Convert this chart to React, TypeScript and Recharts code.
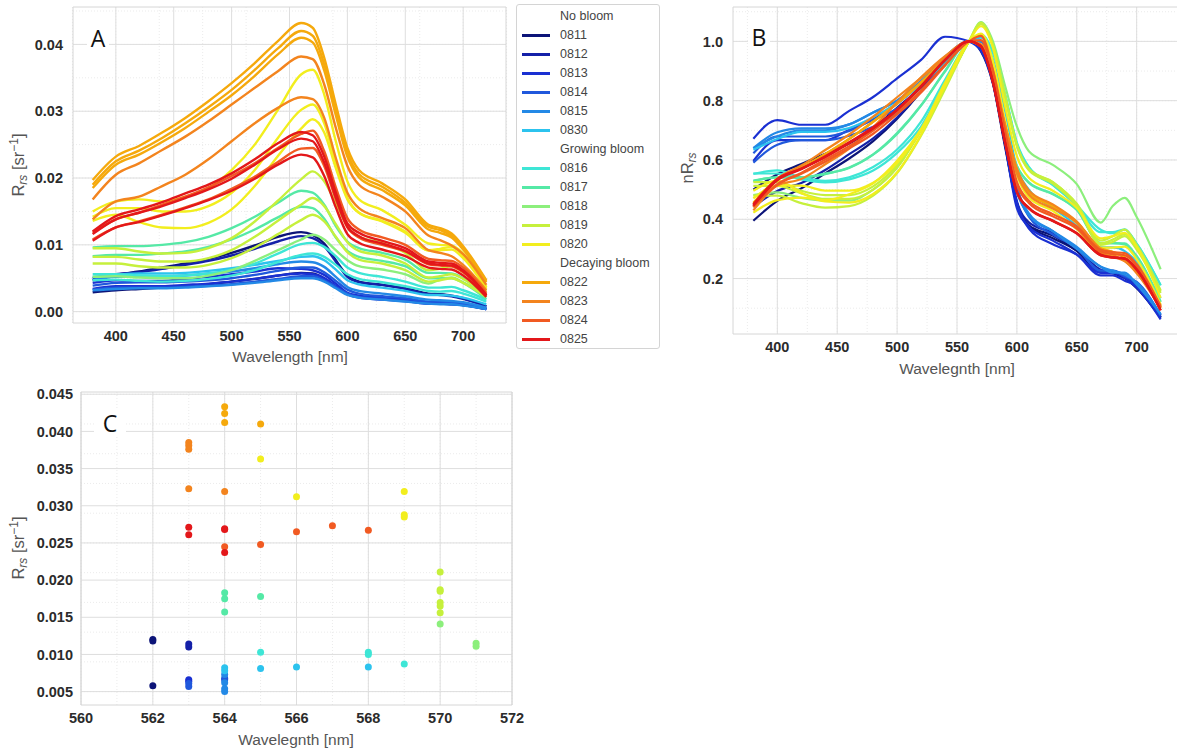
import { LineChart, Line, ScatterChart, Scatter, XAxis, YAxis, CartesianGrid, ReferenceArea } from "recharts";

// Wavelength grid of the sampled spectra [nm]
const WAVELENGTHS = [380, 400, 420, 440, 460, 480, 500, 520, 540, 560, 570, 580, 590, 600, 610, 630, 650, 670, 680, 690, 700, 720];

// Remote-sensing reflectance per station [sr^-1]
const rs0811a = [0.0047, 0.0055, 0.006, 0.0066, 0.0072, 0.0079, 0.0088, 0.0099, 0.0112, 0.0119, 0.0115, 0.0102, 0.0077, 0.0054, 0.0045, 0.004, 0.0035, 0.0027, 0.0026, 0.0024, 0.002, 0.0008];
const rs0811b = [0.0029, 0.0032, 0.0034, 0.0036, 0.0038, 0.0041, 0.0045, 0.0049, 0.0054, 0.0058, 0.0057, 0.005, 0.0038, 0.0026, 0.0022, 0.002, 0.0017, 0.0013, 0.0013, 0.0012, 0.001, 0.0004];
const rs0812a = [0.005, 0.0056, 0.0059, 0.0064, 0.007, 0.0076, 0.0084, 0.0094, 0.0105, 0.0113, 0.011, 0.0098, 0.0075, 0.0052, 0.0044, 0.004, 0.0034, 0.0026, 0.0025, 0.0023, 0.0019, 0.0008];
const rs0813a = [0.0043, 0.0047, 0.0046, 0.0046, 0.0049, 0.0052, 0.0056, 0.006, 0.0065, 0.0064, 0.0062, 0.0055, 0.0042, 0.0028, 0.0024, 0.0021, 0.0018, 0.0014, 0.0014, 0.0013, 0.0011, 0.0004];
const rs0813b = [0.0034, 0.0038, 0.0038, 0.0038, 0.004, 0.0042, 0.0045, 0.0049, 0.0054, 0.0057, 0.0056, 0.005, 0.0038, 0.0026, 0.0021, 0.0018, 0.0016, 0.0012, 0.0012, 0.0011, 0.001, 0.0004];
const rs0814a = [0.0039, 0.0043, 0.0044, 0.0044, 0.0045, 0.0047, 0.005, 0.0055, 0.0061, 0.0066, 0.0066, 0.0059, 0.0046, 0.0033, 0.0027, 0.0023, 0.002, 0.0015, 0.0015, 0.0014, 0.0012, 0.0005];
const rs0814b = [0.0033, 0.0036, 0.0036, 0.0036, 0.0037, 0.0039, 0.0041, 0.0045, 0.0049, 0.0053, 0.0053, 0.0047, 0.0037, 0.0027, 0.0022, 0.0019, 0.0016, 0.0012, 0.0012, 0.0011, 0.001, 0.0004];
const rs0815a = [0.0048, 0.0052, 0.0053, 0.0053, 0.0054, 0.0057, 0.006, 0.0065, 0.0071, 0.0075, 0.0074, 0.0067, 0.0052, 0.0037, 0.0031, 0.0027, 0.0023, 0.0018, 0.0017, 0.0016, 0.0014, 0.0006];
const rs0815b = [0.0032, 0.0034, 0.0035, 0.0035, 0.0036, 0.0038, 0.004, 0.0043, 0.0047, 0.005, 0.005, 0.0045, 0.0035, 0.0025, 0.0021, 0.0018, 0.0015, 0.0012, 0.0011, 0.0011, 0.0009, 0.0004];
const rs0830a = [0.0052, 0.0055, 0.0057, 0.0057, 0.0058, 0.0061, 0.0065, 0.007, 0.0076, 0.0082, 0.0083, 0.0077, 0.0063, 0.0047, 0.0041, 0.0036, 0.0031, 0.0025, 0.0025, 0.0024, 0.0021, 0.0011];
const rs0816a = [0.0056, 0.0056, 0.0054, 0.0053, 0.0054, 0.0057, 0.0063, 0.0072, 0.0087, 0.0101, 0.0103, 0.0097, 0.0083, 0.0066, 0.0058, 0.0052, 0.0045, 0.0036, 0.0036, 0.0037, 0.0032, 0.0018];
const rs0816b = [0.0047, 0.0048, 0.0046, 0.0045, 0.0046, 0.0049, 0.0054, 0.0062, 0.0074, 0.0085, 0.0087, 0.0082, 0.007, 0.0056, 0.0049, 0.0044, 0.0038, 0.0031, 0.003, 0.0031, 0.0027, 0.0015];
const rs0817a = [0.0096, 0.0098, 0.0098, 0.01, 0.0104, 0.0112, 0.0125, 0.0142, 0.0163, 0.0181, 0.0178, 0.016, 0.0128, 0.0105, 0.0095, 0.0088, 0.0078, 0.0058, 0.0058, 0.0057, 0.005, 0.0022];
const rs0817b = [0.0083, 0.0085, 0.0085, 0.0087, 0.009, 0.0097, 0.0108, 0.0123, 0.0141, 0.0157, 0.0155, 0.0139, 0.0111, 0.0091, 0.0082, 0.0076, 0.0068, 0.005, 0.005, 0.005, 0.0043, 0.0019];
const rs0818a = [0.0052, 0.0053, 0.0051, 0.005, 0.005, 0.0054, 0.0062, 0.0076, 0.0092, 0.0108, 0.0115, 0.0108, 0.0092, 0.0077, 0.0068, 0.0063, 0.0056, 0.0042, 0.0048, 0.0051, 0.0044, 0.0025];
const rs0819a = [0.0095, 0.0095, 0.009, 0.0087, 0.0088, 0.0095, 0.011, 0.0135, 0.0166, 0.0198, 0.021, 0.0195, 0.0162, 0.0128, 0.0112, 0.0103, 0.0088, 0.0062, 0.0064, 0.0068, 0.0059, 0.003];
const rs0819b = [0.0082, 0.0082, 0.0078, 0.0075, 0.0075, 0.008, 0.0092, 0.0112, 0.0136, 0.016, 0.017, 0.0158, 0.0131, 0.0104, 0.0091, 0.0084, 0.0072, 0.0051, 0.0053, 0.0056, 0.0049, 0.0025];
const rs0819c = [0.0072, 0.0072, 0.0068, 0.0066, 0.0066, 0.007, 0.008, 0.0096, 0.0116, 0.0137, 0.0145, 0.0135, 0.0112, 0.0089, 0.0078, 0.0072, 0.0062, 0.0045, 0.0047, 0.005, 0.0043, 0.0022];
const rs0820a = [0.015, 0.0165, 0.0168, 0.0165, 0.0172, 0.0185, 0.0212, 0.025, 0.0302, 0.0355, 0.0362, 0.0325, 0.0255, 0.0195, 0.0168, 0.0152, 0.013, 0.0102, 0.01, 0.0099, 0.0087, 0.0036];
const rs0820b = [0.0136, 0.0145, 0.0134, 0.0126, 0.0125, 0.0133, 0.0153, 0.0188, 0.0233, 0.0274, 0.0288, 0.0268, 0.0215, 0.0168, 0.0148, 0.0136, 0.012, 0.0092, 0.0094, 0.0097, 0.0084, 0.0037];
const rs0820c = [0.0142, 0.0155, 0.0155, 0.015, 0.015, 0.0158, 0.0178, 0.0212, 0.026, 0.0302, 0.031, 0.0282, 0.0222, 0.017, 0.0148, 0.0135, 0.0118, 0.0092, 0.0092, 0.0093, 0.008, 0.0034];
const rs0822a = [0.0197, 0.0232, 0.0248, 0.0268, 0.029, 0.0315, 0.0342, 0.0372, 0.0405, 0.0432, 0.0425, 0.038, 0.031, 0.0245, 0.0212, 0.0192, 0.0168, 0.013, 0.0125, 0.0117, 0.0098, 0.0047];
const rs0822b = [0.019, 0.0225, 0.0241, 0.026, 0.0282, 0.0306, 0.0332, 0.0362, 0.0394, 0.042, 0.0413, 0.037, 0.0302, 0.0238, 0.0206, 0.0187, 0.0163, 0.0127, 0.0122, 0.0114, 0.0095, 0.0046];
const rs0822c = [0.0185, 0.022, 0.0235, 0.0254, 0.0275, 0.0299, 0.0324, 0.0353, 0.0385, 0.041, 0.0403, 0.0361, 0.0294, 0.0232, 0.0201, 0.0182, 0.0159, 0.0123, 0.0118, 0.0111, 0.0093, 0.0044];
const rs0823a = [0.0168, 0.0205, 0.0222, 0.0242, 0.0262, 0.0285, 0.031, 0.0335, 0.036, 0.0382, 0.0378, 0.034, 0.0275, 0.0218, 0.019, 0.0172, 0.015, 0.0114, 0.0107, 0.0099, 0.0086, 0.004];
const rs0823b = [0.0138, 0.0165, 0.0172, 0.0188, 0.0205, 0.0228, 0.0255, 0.0282, 0.0305, 0.0321, 0.0318, 0.029, 0.023, 0.0178, 0.0155, 0.014, 0.0125, 0.0092, 0.0088, 0.0083, 0.007, 0.0032];
const rs0824a = [0.0118, 0.0138, 0.0148, 0.016, 0.0172, 0.0186, 0.0203, 0.0222, 0.0245, 0.0266, 0.0271, 0.024, 0.0186, 0.014, 0.0123, 0.0111, 0.01, 0.0079, 0.0077, 0.0076, 0.0066, 0.0028];
const rs0824b = [0.0108, 0.0126, 0.0135, 0.0145, 0.0156, 0.0168, 0.0184, 0.0202, 0.0224, 0.0244, 0.0245, 0.0218, 0.0168, 0.0126, 0.0111, 0.01, 0.009, 0.0071, 0.0069, 0.0068, 0.0059, 0.0025];
const rs0825a = [0.012, 0.0143, 0.0153, 0.0164, 0.0177, 0.019, 0.0207, 0.0228, 0.0252, 0.0269, 0.0264, 0.0232, 0.0178, 0.0132, 0.0118, 0.0106, 0.0095, 0.0075, 0.0073, 0.0072, 0.0062, 0.0025];
const rs0825b = [0.0106, 0.0126, 0.0134, 0.0144, 0.0155, 0.0167, 0.0181, 0.0199, 0.022, 0.0235, 0.0231, 0.0203, 0.0156, 0.0116, 0.0103, 0.0093, 0.0083, 0.0066, 0.0064, 0.0063, 0.0054, 0.0022];
const rs0825c = [0.0116, 0.0138, 0.0148, 0.0158, 0.017, 0.0183, 0.0199, 0.022, 0.0243, 0.0259, 0.0255, 0.0223, 0.0171, 0.0127, 0.0113, 0.0102, 0.0091, 0.0072, 0.007, 0.0069, 0.006, 0.0024];

// Peak reflectance position per station: [wavelength nm, Rrs]
const peaks0811 = [[562, 0.012], [562, 0.0118], [562, 0.0058]];
const peaks0812 = [[563, 0.0114], [563, 0.011]];
const peaks0813 = [[563, 0.0066], [563, 0.0064]];
const peaks0814 = [[563, 0.0061], [563, 0.0057], [564, 0.0068], [564, 0.0066]];
const peaks0815 = [[564, 0.0062], [564, 0.0054], [564, 0.005], [564, 0.0073]];
const peaks0830 = [[564, 0.0082], [564, 0.0078], [565, 0.0081], [566, 0.0083], [568, 0.0083]];
const peaks0816 = [[565, 0.0103], [568, 0.0103], [568, 0.01], [569, 0.0087]];
const peaks0817 = [[564, 0.0183], [564, 0.0175], [564, 0.0157], [565, 0.0178]];
const peaks0818 = [[571, 0.0115], [571, 0.0111], [570, 0.0141]];
const peaks0819 = [[570, 0.0211], [570, 0.0187], [570, 0.0185], [570, 0.017], [570, 0.0165], [570, 0.0156]];
const peaks0820 = [[565, 0.0363], [566, 0.0312], [569, 0.0319], [569, 0.0288], [569, 0.0285]];
const peaks0822 = [[564, 0.0433], [564, 0.0424], [564, 0.0412], [565, 0.041]];
const peaks0823 = [[563, 0.0385], [563, 0.0381], [563, 0.0376], [563, 0.0323], [564, 0.0319]];
const peaks0824 = [[564, 0.0245], [565, 0.0248], [566, 0.0265], [567, 0.0273], [568, 0.0267]];
const peaks0825 = [[563, 0.0271], [563, 0.0261], [564, 0.0269], [564, 0.0268], [564, 0.0237]];

const DATES = ["0811", "0812", "0813", "0814", "0815", "0830", "0816", "0817", "0818", "0819", "0820", "0822", "0823", "0824", "0825"];
const DATE_COLORS = ["#0c1478", "#1420a8", "#1a30d2", "#2058dc", "#2389e6", "#2cc3ee", "#3ee6d6", "#55e9a6", "#8cef7c", "#c6f03c", "#f2ee1e", "#f5a90c", "#f3841e", "#f15a22", "#e3171a"];

const GROUPS = [
  { title: "No bloom", dates: ["0811", "0812", "0813", "0814", "0815", "0830"] },
  { title: "Growing bloom", dates: ["0816", "0817", "0818", "0819", "0820"] },
  { title: "Decaying bloom", dates: ["0822", "0823", "0824", "0825"] },
];

const SPECTRA = [
  { id: "s0811a", date: "0811", values: rs0811a },
  { id: "s0811b", date: "0811", values: rs0811b },
  { id: "s0812a", date: "0812", values: rs0812a },
  { id: "s0813a", date: "0813", values: rs0813a },
  { id: "s0813b", date: "0813", values: rs0813b },
  { id: "s0814a", date: "0814", values: rs0814a },
  { id: "s0814b", date: "0814", values: rs0814b },
  { id: "s0815a", date: "0815", values: rs0815a },
  { id: "s0815b", date: "0815", values: rs0815b },
  { id: "s0830a", date: "0830", values: rs0830a },
  { id: "s0816a", date: "0816", values: rs0816a },
  { id: "s0816b", date: "0816", values: rs0816b },
  { id: "s0817a", date: "0817", values: rs0817a },
  { id: "s0817b", date: "0817", values: rs0817b },
  { id: "s0818a", date: "0818", values: rs0818a },
  { id: "s0819a", date: "0819", values: rs0819a },
  { id: "s0819b", date: "0819", values: rs0819b },
  { id: "s0819c", date: "0819", values: rs0819c },
  { id: "s0820a", date: "0820", values: rs0820a },
  { id: "s0820b", date: "0820", values: rs0820b },
  { id: "s0820c", date: "0820", values: rs0820c },
  { id: "s0822a", date: "0822", values: rs0822a },
  { id: "s0822b", date: "0822", values: rs0822b },
  { id: "s0822c", date: "0822", values: rs0822c },
  { id: "s0823a", date: "0823", values: rs0823a },
  { id: "s0823b", date: "0823", values: rs0823b },
  { id: "s0824a", date: "0824", values: rs0824a },
  { id: "s0824b", date: "0824", values: rs0824b },
  { id: "s0825a", date: "0825", values: rs0825a },
  { id: "s0825b", date: "0825", values: rs0825b },
  { id: "s0825c", date: "0825", values: rs0825c },
];

const PEAKS = [
  { date: "0811", points: peaks0811 }, { date: "0812", points: peaks0812 }, { date: "0813", points: peaks0813 },
  { date: "0814", points: peaks0814 }, { date: "0815", points: peaks0815 }, { date: "0830", points: peaks0830 },
  { date: "0816", points: peaks0816 }, { date: "0817", points: peaks0817 }, { date: "0818", points: peaks0818 },
  { date: "0819", points: peaks0819 }, { date: "0820", points: peaks0820 }, { date: "0822", points: peaks0822 },
  { date: "0823", points: peaks0823 }, { date: "0824", points: peaks0824 }, { date: "0825", points: peaks0825 },
];

const colorOf = (date: string) => DATE_COLORS[DATES.indexOf(date)];

// Spectra table for panel A, and the same spectra normalised at 560 nm for panel B
const NORM_INDEX = WAVELENGTHS.indexOf(560);
const rowsA = WAVELENGTHS.map((w, i) => {
  const row: Record<string, number> = { w };
  SPECTRA.forEach((s) => { row[s.id] = s.values[i]; });
  return row;
});
const rowsB = WAVELENGTHS.map((w, i) => {
  const row: Record<string, number> = { w };
  SPECTRA.forEach((s) => { row[s.id] = s.values[i] / s.values[NORM_INDEX]; });
  return row;
});

const range = (start: number, end: number, step: number) => {
  const out: number[] = [];
  for (let v = start; v <= end + step / 1000; v += step) out.push(+v.toFixed(5));
  return out;
};

const SPEC_X_TICKS = [400, 450, 500, 550, 600, 650, 700];
const SPEC_X_MINOR = range(362.5, 737.5, 12.5);
const A_Y_TICKS = [0, 0.01, 0.02, 0.03, 0.04];
const A_Y_MINOR = range(0, 0.045, 0.0025);
const B_Y_TICKS = [0.2, 0.4, 0.6, 0.8, 1.0];
const B_Y_MINOR = range(0.05, 1.1, 0.05);
const C_X_TICKS = [560, 562, 564, 566, 568, 570, 572];
const C_X_MINOR = range(560, 572, 0.5);
const C_Y_TICKS = [0.005, 0.01, 0.015, 0.02, 0.025, 0.03, 0.035, 0.04, 0.045];
const C_Y_MINOR = range(0.004, 0.045, 0.001);

const FONT = '"Liberation Sans", Arial, Helvetica, sans-serif';
const tickStyle = { fontSize: 14.5, fontWeight: 700, fill: "#2b2b2b", fontFamily: FONT };
const titleStyle = { position: "absolute" as const, fontSize: 15.5, color: "#555", whiteSpace: "nowrap" as const, transform: "translate(-50%, -50%)" };
const yTitleStyle = { ...titleStyle, fontSize: 16.5, transform: "translate(-50%, -50%) rotate(-90deg)" };

function PanelLetter({ text, x, y, w }: { text: string; x: number; y: number; w: number }) {
  return (
    <div style={{ position: "absolute", left: x - w / 2, top: y - 14, width: w, height: 28, background: "#fff", textAlign: "center", fontSize: 23, lineHeight: "28px", color: "#111", fontFamily: '"Open Sans", sans-serif' }}>
      {text}
    </div>
  );
}

function RsTitle() {
  return (
    <span>
      R<sub style={{ fontStyle: "italic", fontSize: 12, verticalAlign: "-3px" }}>rs</sub> [sr<sup style={{ fontSize: 12, verticalAlign: "6px" }}>−1</sup>]
    </span>
  );
}

function DateLegend() {
  const rows: { label: string; color?: string }[] = [];
  GROUPS.forEach((g) => {
    rows.push({ label: g.title });
    g.dates.forEach((d) => rows.push({ label: d, color: colorOf(d) }));
  });
  return (
    <div style={{ position: "absolute", left: 516, top: 4, width: 144, height: 345, border: "1px solid #d4d4d4", borderRadius: 3, boxSizing: "border-box", background: "#fff" }}>
      {rows.map((r, i) => (
        <div key={i} style={{ position: "absolute", left: 0, top: 11 + i * 19 - 10, height: 20, width: 144, fontSize: 12.5, color: "#444", lineHeight: "20px" }}>
          {r.color && <div style={{ position: "absolute", left: 5, top: 9, width: 28, height: 2.5, background: r.color }} />}
          <span style={{ position: "absolute", left: 43 }}>{r.label}</span>
        </div>
      ))}
    </div>
  );
}

export default function App() {
  return (
    <div style={{ position: "fixed", left: 0, top: 0, width: 1177, height: 752, overflow: "hidden", background: "#fff", fontFamily: FONT }}>
      {/* A: Rrs spectra */}
      <div style={{ position: "absolute", left: 0, top: 0 }}>
        <LineChart width={520} height={370} data={rowsA} margin={{ top: 7, right: 14, bottom: 0, left: 0 }}>
          <CartesianGrid stroke="#ebebeb" strokeDasharray="1 2" horizontalValues={A_Y_MINOR} verticalValues={SPEC_X_MINOR} />
          <CartesianGrid stroke="#dedede" horizontalValues={A_Y_TICKS} verticalValues={SPEC_X_TICKS} />
          <ReferenceArea x1={363} x2={737} y1={-0.0017} y2={0.0456} fill="none" stroke="#d6d6d6" ifOverflow="visible" />
          <XAxis dataKey="w" type="number" domain={[363, 737]} ticks={SPEC_X_TICKS} axisLine={false} tickLine={false} tick={tickStyle} height={47} allowDataOverflow />
          <YAxis type="number" domain={[-0.0017, 0.0456]} ticks={A_Y_TICKS} tickFormatter={(v: number) => v.toFixed(2)} axisLine={false} tickLine={false} tick={tickStyle} width={73} tickMargin={4} allowDataOverflow />
          {SPECTRA.map((s) => (
            <Line key={s.id} dataKey={s.id} type="monotone" stroke={colorOf(s.date)} strokeWidth={2.4} dot={false} isAnimationActive={false} />
          ))}
        </LineChart>
      </div>
      <PanelLetter text="A" x={98} y={38} w={22} />
      <div style={{ ...titleStyle, left: 290, top: 357 }}>Wavelength [nm]</div>
      <div style={{ ...yTitleStyle, left: 18, top: 165 }}><RsTitle /></div>
      <DateLegend />

      {/* B: spectra normalised at 560 nm */}
      <div style={{ position: "absolute", left: 660, top: 0 }}>
        <LineChart width={530} height={390} data={rowsB} margin={{ top: 7, right: 9, bottom: 0, left: 0 }}>
          <CartesianGrid stroke="#ebebeb" strokeDasharray="1 2" horizontalValues={B_Y_MINOR} verticalValues={SPEC_X_MINOR} />
          <CartesianGrid stroke="#dedede" horizontalValues={B_Y_TICKS} verticalValues={SPEC_X_TICKS} />
          <ReferenceArea x1={363} x2={737} y1={0.013} y2={1.116} fill="none" stroke="#d6d6d6" ifOverflow="visible" />
          <XAxis dataKey="w" type="number" domain={[363, 737]} ticks={SPEC_X_TICKS} axisLine={false} tickLine={false} tick={tickStyle} height={56} allowDataOverflow />
          <YAxis type="number" domain={[0.013, 1.116]} ticks={B_Y_TICKS} tickFormatter={(v: number) => v.toFixed(1)} axisLine={false} tickLine={false} tick={tickStyle} width={73} tickMargin={4} allowDataOverflow />
          {SPECTRA.map((s) => (
            <Line key={s.id} dataKey={s.id} type="monotone" stroke={colorOf(s.date)} strokeWidth={2.2} dot={false} isAnimationActive={false} />
          ))}
        </LineChart>
      </div>
      <PanelLetter text="B" x={759} y={37} w={22} />
      <div style={{ ...titleStyle, left: 957, top: 369 }}>Wavelegnth [nm]</div>
      <div style={{ ...yTitleStyle, left: 688, top: 168 }}>
        <span>nR<sub style={{ fontStyle: "italic", fontSize: 12, verticalAlign: "-3px" }}>rs</sub></span>
      </div>

      {/* C: position and magnitude of the Rrs peak */}
      <div style={{ position: "absolute", left: 0, top: 385 }}>
        <ScatterChart width={530} height={367} margin={{ top: 7, right: 18, bottom: 0, left: 0 }}>
          <CartesianGrid stroke="#ebebeb" strokeDasharray="1 2" horizontalValues={C_Y_MINOR} verticalValues={C_X_MINOR} />
          <CartesianGrid stroke="#dedede" horizontalValues={C_Y_TICKS} verticalValues={C_X_TICKS} />
          <ReferenceArea x1={560} x2={572} y1={0.0032} y2={0.0453} fill="none" stroke="#d6d6d6" ifOverflow="visible" />
          <XAxis dataKey="w" type="number" domain={[560, 572]} ticks={C_X_TICKS} axisLine={false} tickLine={false} tick={tickStyle} height={47} allowDataOverflow />
          <YAxis dataKey="r" type="number" domain={[0.0032, 0.0453]} ticks={C_Y_TICKS} tickFormatter={(v: number) => v.toFixed(3)} axisLine={false} tickLine={false} tick={tickStyle} width={81} allowDataOverflow />
          {PEAKS.map((p) => (
            <Scatter
              key={p.date}
              data={p.points.map(([w, r]) => ({ w, r }))}
              fill={colorOf(p.date)}
              isAnimationActive={false}
              shape={(props: any) => <circle cx={props.cx} cy={props.cy} r={3.5} fill={colorOf(p.date)} />}
            />
          ))}
        </ScatterChart>
      </div>
      <PanelLetter text="C" x={110} y={423} w={32} />
      <div style={{ ...titleStyle, left: 296, top: 740 }}>Wavelegnth [nm]</div>
      <div style={{ ...yTitleStyle, left: 18, top: 548 }}><RsTitle /></div>
    </div>
  );
}
